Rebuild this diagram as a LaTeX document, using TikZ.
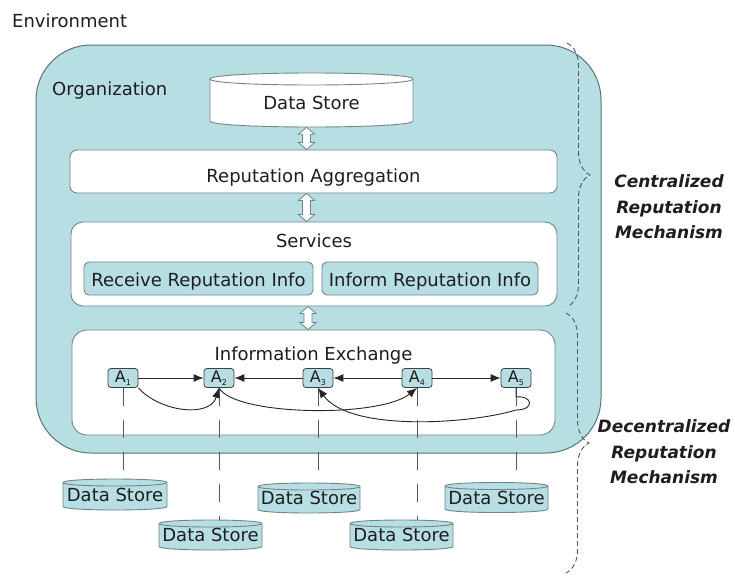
\documentclass[tikz,border=0pt]{standalone}
\usepackage{fontspec}
\setmainfont{DejaVu Sans}
\usetikzlibrary{arrows.meta,decorations.pathreplacing,calc}
\definecolor{orgblue}{HTML}{B7DFE3}
\definecolor{orgline}{HTML}{5B7377}
\definecolor{boxline}{HTML}{73838A}
\definecolor{txt}{HTML}{1E1E1E}
\definecolor{dashc}{HTML}{4E5B5E}

\newcommand\dstore[8]{%
  \pgfmathsetmacro\dsxa{#2-#4/2}%
  \pgfmathsetmacro\dsxb{#2+#4/2}%
  \pgfmathsetmacro\dsya{#3-#5/2+#7}%
  \pgfmathsetmacro\dsyb{#3+#5/2-#7}%
  \pgfmathsetmacro\dsk{4/3*#7}%
  \filldraw[dsline, fill=#6] (\dsxa,\dsya) -- (\dsxa,\dsyb) .. controls (\dsxa,\dsyb+\dsk) and (\dsxb,\dsyb+\dsk) .. (\dsxb,\dsyb) -- (\dsxb,\dsya) .. controls (\dsxb,\dsya-\dsk) and (\dsxa,\dsya-\dsk) .. (\dsxa,\dsya) -- cycle;
  \draw[dsline] (\dsxa,\dsya) .. controls (\dsxa,\dsya+\dsk) and (\dsxb,\dsya+\dsk) .. (\dsxb,\dsya);
  \node[dsnode, minimum width=#4pt, minimum height=#5pt, #8] (#1) at (#2,#3) {Data Store};
}

\newcommand\hollowarrow[2]{%
  \path[hollow] let \p1=#1, \p2=#2 in
    (\x1-4pt,\y1-7pt) -- (\x1-8pt,\y1-7pt) -- (\x1,\y1) -- (\x1+8pt,\y1-7pt) -- (\x1+4pt,\y1-7pt)
    -- (\x1+4pt,\y2+7pt) -- (\x1+8pt,\y2+7pt) -- (\x1,\y2) -- (\x1-8pt,\y2+7pt) -- (\x1-4pt,\y2+7pt) -- cycle;
}
\newcommand\agentlbl[1]{{\fontsize{16}{16}\selectfont A}\raisebox{-3pt}{\fontsize{8}{8}\selectfont #1}}

\begin{document}
\begin{tikzpicture}[x=1pt,y=-1pt,
  every node/.style={text=txt},
  txtf/.style={font=\fontsize{18}{21}\selectfont, inner sep=0pt},
  orgbox/.style={draw=orgline, fill=orgblue, line width=1pt, rounded corners=55pt, inner sep=0pt},
  wbox/.style={draw=boxline, fill=white, line width=0.9pt, inner sep=0pt},
  svcbox/.style={draw=boxline, fill=orgblue, line width=0.9pt, rounded corners=5pt, inner sep=0pt, minimum height=33pt},
  agent/.style={draw=black!75, fill=orgblue, line width=0.8pt, rounded corners=3pt, minimum width=30pt, minimum height=19pt, inner sep=0pt},
  conn/.style={draw=black!85, line width=0.9pt, -{Latex[length=10pt,width=8pt]}},
  curv/.style={draw=black!85, line width=0.9pt, -{Latex[length=10pt,width=8pt]}},
  dline/.style={draw=dashc, line width=0.8pt, dash pattern=on 18pt off 14pt},
  dsline/.style={draw=boxline, line width=0.9pt},
  dsnode/.style={inner sep=0pt, font=\fontsize{18}{21}\selectfont},
  hollow/.style={draw=boxline, fill=white, line width=0.8pt},
  brc/.style={draw=dashc, line width=0.9pt, dash pattern=on 5pt off 3pt, decorate, decoration={brace, amplitude=23pt}},
  lbl/.style={font=\fontsize{17}{25.5}\selectfont\bfseries\itshape, align=center, inner sep=0pt}
]
\useasboundingbox (0,0) rectangle (735,576);

% environment label
\node[txtf, anchor=base west] (env) at (12,27) {Environment};

% organization
\node[orgbox, minimum width=565pt, minimum height=408pt] (org) at (318.5,249) {};
\node[txtf, anchor=base west] (orgl) at (52,95) {Organization};

% top data store
\dstore{ds0}{311.5}{100}{203}{54}{white}{6}{text height=18pt, text depth=0pt}

% reputation aggregation
\node[wbox, rounded corners=7pt, minimum width=487pt, minimum height=43pt] (repagg) at (313.5,171.5) {};
\node[txtf, anchor=base] (repaggl) at (313.5,182) {Reputation Aggregation};

% services
\node[wbox, rounded corners=12pt, minimum width=486pt, minimum height=84pt] (svc) at (314,264) {};
\node[txtf, anchor=base] (svcl) at (314,247) {Services};
\node[svcbox, minimum width=229pt] (recv) at (198.5,278.5) {};
\node[txtf, anchor=base] (recvl) at (198.5,286) {Receive Reputation Info};
\node[svcbox, minimum width=216pt] (inform) at (430,278.5) {};
\node[txtf, anchor=base] (informl) at (430,286) {Inform Reputation Info};

% information exchange
\node[wbox, rounded corners=15pt, minimum width=483pt, minimum height=105pt] (infoex) at (313.5,382.5) {};
\node[txtf, anchor=base] (infoexl) at (313.5,360) {Information Exchange};

% hollow double arrows
\hollowarrow{($(ds0.south)+(-5,0)$)}{($(repagg.north)+(-7,0)$)}
\hollowarrow{($(repagg.south)+(-7,0)$)}{($(svc.north)+(-7,0)$)}
\hollowarrow{($(svc.south)+(-6,0)$)}{($(infoex.north)+(-6,0)$)}

% bottom data stores
\dstore{ds1}{115}{494.5}{104}{31}{orgblue}{3.5}{}
\dstore{ds2}{210.5}{535}{103}{30}{orgblue}{3.5}{}
\dstore{ds3}{309}{498}{102}{30}{orgblue}{3.5}{}
\dstore{ds4}{401.5}{535}{103}{30}{orgblue}{3.5}{}
\dstore{ds5}{496.5}{497.5}{103}{30}{orgblue}{3.5}{}

% agents
\node[agent] (a1) at (123,378) {\agentlbl{1}};
\node[agent] (a2) at (219,378) {\agentlbl{2}};
\node[agent] (a3) at (318,378) {\agentlbl{3}};
\node[agent] (a4) at (417,378) {\agentlbl{4}};
\node[agent] (a5) at (516,378) {\agentlbl{5}};

% dashed lines to data stores
\draw[dline] (a1.south) -- (a1.south |- ds1.north);
\draw[dline] (a2.south) -- (a2.south |- ds2.north);
\draw[dline] (a3.south) -- (a3.south |- ds3.north);
\draw[dline] (a4.south) -- (a4.south |- ds4.north);
\draw[dline] (a5.south) -- (a5.south |- ds5.north);

% horizontal connectors
\draw[conn] (a1.east) -- (a2.west);
\draw[conn] (a3.west) -- (a2.east);
\draw[conn] (a4.west) -- (a3.east);
\draw[conn] (a4.east) -- (a5.west);

% curved connectors
\draw[curv] (a1.south east) .. controls (160,412) and (210,418) .. (a2.south);
\draw[curv] (a2.south) .. controls (235,416) and (380,418) .. (a4.south);
\draw[curv] (a5.south) -- (516,397) .. controls (533,395) and (535,410) .. (516,410)
   .. controls (470,424) and (350,432) .. (a3.south);

% braces
\coordinate (b1t) at (567,43);
\coordinate (b1b) at (567,307);
\coordinate (b2t) at (566,313);
\coordinate (b2b) at (566,573);
\draw[brc] (b1t) -- (b1b);
\draw[brc] (b2t) -- (b2b);

\node[lbl] (cent) at (669,207) {Centralized\\Reputation\\Mechanism};
\node[lbl] (decent) at (664,452) {Decentralized\\Reputation\\Mechanism};
\end{tikzpicture}
\end{document}
